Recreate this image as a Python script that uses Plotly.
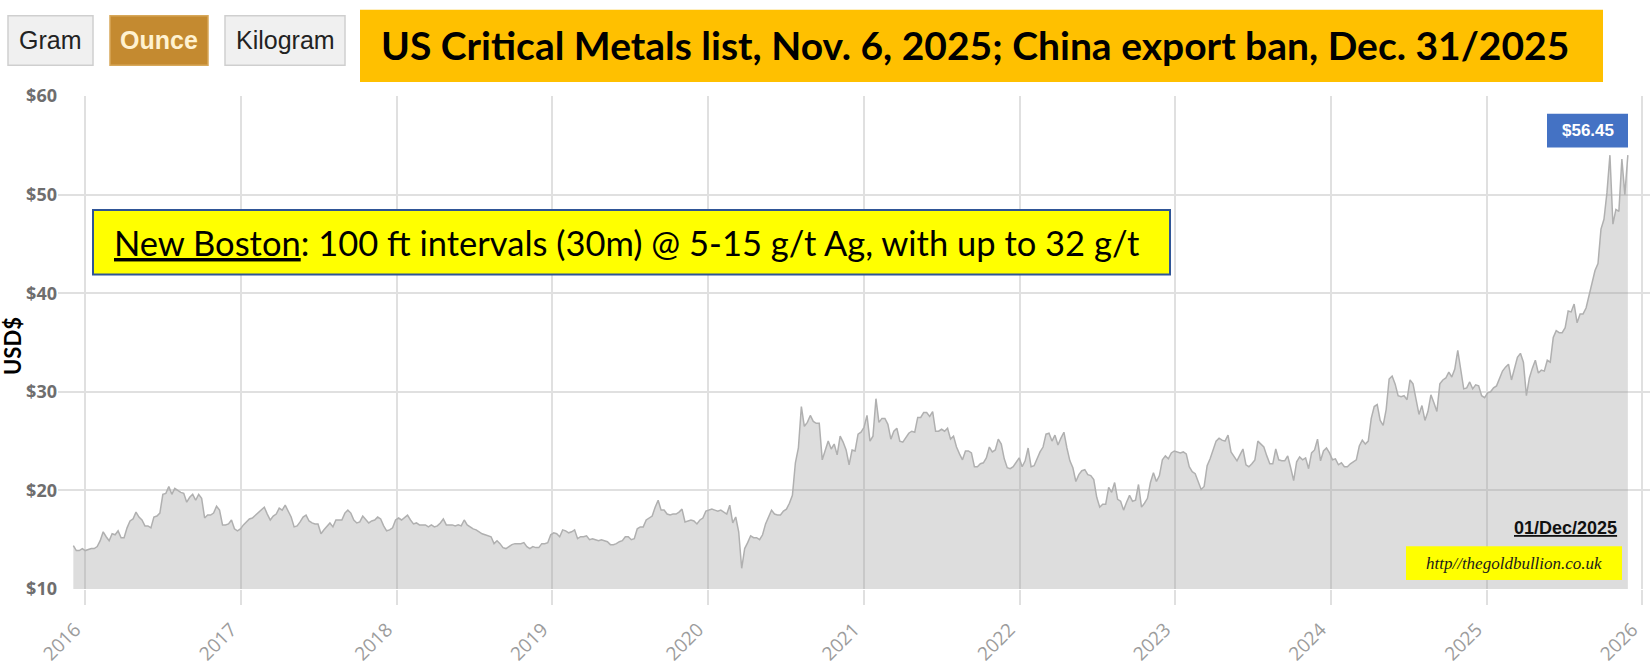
import pandas as pd
import plotly.graph_objects as go

# ---------------- data (weekly Friday closes) ----------------
silver_2015 = [14.4, 13.9, 13.9, 14.1]  # Dec 4 .. Dec 25
silver_2016 = [13.9, 14.0, 14.1, 14.1, 14.3,
               14.9, 15.8, 15.3, 14.9,
               15.6, 15.5, 15.9, 15.2,
               15.2, 16.2, 16.9, 17.1, 17.8,
               17.3, 17.0, 16.4, 16.4,
               16.2, 17.3, 17.4, 17.7,
               19.6, 19.7, 20.4, 19.6, 20.2,
               20.0, 19.8, 19.7, 18.8,
               19.3, 19.6, 19.0, 19.6, 19.2,
               17.2, 17.5, 17.5, 17.7,
               18.4, 18.0, 16.5, 16.5,
               16.6, 17.0, 16.1, 15.9, 16.1]
silver_2017 = [16.5, 16.8, 17.1, 17.2,
               17.5, 17.7, 18.0, 18.3,
               17.6, 17.0, 17.4, 17.6, 18.2,
               18.0, 18.5, 17.9, 17.3,
               16.3, 16.4, 16.8, 17.3,
               17.5, 16.9, 16.7, 16.6, 16.6,
               15.6, 16.0, 16.4, 16.7,
               16.3, 17.0, 17.0, 17.0,
               17.7, 18.0, 17.7, 17.0, 16.7,
               16.8, 17.4, 17.0, 16.7,
               16.9, 17.0, 17.3, 17.1,
               16.4, 15.9, 16.0, 16.2, 17.0]
silver_2018 = [17.2, 17.0, 17.3, 17.5,
               17.0, 16.6, 16.7, 16.5,
               16.5, 16.5, 16.3, 16.5, 16.3,
               16.4, 16.7, 17.1, 16.5,
               16.5, 16.5, 16.4, 16.5,
               16.4, 17.0, 16.5, 16.3, 16.1,
               16.0, 15.8, 15.6, 15.5,
               15.4, 15.3, 14.6, 14.9, 14.6,
               14.2, 14.1, 14.3, 14.5,
               14.6, 14.6, 14.6, 14.7,
               14.3, 14.1, 14.3, 14.2, 14.2,
               14.6, 14.6, 14.7, 15.5]
silver_2019 = [15.7, 15.6, 15.3, 16.0,
               15.9, 15.7, 15.8, 16.0,
               15.1, 15.3, 15.3, 15.4, 15.0,
               15.1, 15.0, 14.9, 15.0,
               14.9, 14.8, 14.5, 14.5, 14.6,
               14.8, 14.9, 15.3, 15.3,
               15.0, 15.1, 16.1, 16.3,
               16.3, 17.0, 17.2, 17.4, 18.3,
               19.0, 18.0, 18.0, 17.6,
               17.5, 17.6, 17.6, 17.8,
               18.1, 16.8, 16.9, 17.0, 16.9,
               16.6, 17.0, 17.2, 17.9]
silver_2020 = [18.0, 18.1, 18.0, 17.9, 18.0,
               17.8, 17.6, 18.5, 16.7,
               17.3, 15.8, 12.1, 14.1,
               14.7, 15.4, 15.2, 15.2,
               15.0, 15.5, 16.6, 17.3, 18.0,
               17.6, 17.5, 17.5, 17.9,
               18.1, 18.7, 19.5, 22.8, 24.3,
               28.5, 26.5, 26.9, 27.6,
               27.0, 26.8, 26.8, 23.1,
               24.0, 25.0, 24.2, 24.7, 23.6,
               25.5, 24.9, 24.1, 22.6,
               24.1, 24.0, 25.7, 25.9]
silver_2021 = [26.4, 27.6, 25.0, 25.5, 29.3,
               26.9, 27.3, 27.3, 26.7,
               25.2, 26.0, 26.3, 25.0,
               24.9, 25.3, 25.8, 26.0, 25.9,
               27.4, 27.4, 27.9, 27.9,
               27.5, 28.0, 26.0, 26.0,
               26.2, 26.0, 26.3, 25.2, 25.5,
               24.4, 23.7, 23.1, 24.0,
               24.0, 23.8, 22.4, 22.4,
               22.7, 22.8, 23.3, 24.4, 23.9,
               24.1, 25.2, 24.7, 23.2,
               22.3, 22.2, 22.4, 22.9, 23.3]
silver_2022 = [22.4, 23.0, 24.3, 22.4,
               22.5, 23.2, 23.9, 24.4,
               25.7, 25.8, 25.0, 25.6,
               24.6, 25.3, 25.9, 24.3, 23.0,
               22.3, 20.9, 21.6, 22.0,
               22.1, 21.6, 21.5, 21.1,
               19.3, 18.3, 18.6, 18.6, 20.3,
               19.8, 20.8, 19.1, 18.9,
               18.0, 18.8, 19.5, 18.9, 19.0,
               20.6, 18.3, 18.7, 19.2,
               20.8, 21.8, 20.9, 21.5,
               23.1, 23.5, 23.2, 23.8, 24.0]
silver_2023 = [23.9, 23.8, 23.9, 23.7,
               22.4, 21.9, 21.7, 20.8,
               20.1, 20.4, 22.5, 23.2, 24.1,
               25.0, 25.3, 25.1, 25.0,
               25.6, 23.9, 23.5, 23.0,
               23.6, 24.2, 22.6, 22.4, 22.7,
               23.1, 25.0, 24.7, 24.4,
               23.5, 22.7, 22.7, 24.2,
               23.1, 23.0, 23.0, 23.5, 22.3,
               21.0, 22.9, 23.4, 23.1,
               23.3, 22.2, 23.8, 24.1,
               25.2, 23.0, 24.0, 24.3, 23.8]
silver_2024 = [23.1, 23.2, 22.6, 22.8,
               22.4, 22.4, 22.7, 22.9,
               23.1, 24.5, 25.1, 24.7, 25.0,
               27.3, 28.5, 28.7, 27.1,
               26.6, 28.2, 31.3, 31.6, 30.8,
               29.6, 29.5, 29.6, 29.2,
               31.2, 30.8, 29.3, 27.7,
               28.6, 27.1, 28.0, 29.7, 28.9,
               28.0, 30.8, 31.2, 31.4,
               32.0, 31.5, 32.3, 34.2,
               32.2, 30.3, 30.4, 31.0, 30.3,
               30.7, 30.6, 29.6, 29.4]
silver_2025 = [29.9, 30.0, 30.4, 30.6, 31.3,
               32.1, 32.5, 32.8, 31.2,
               32.5, 33.5, 33.9, 33.0,
               29.6, 31.4, 32.4, 33.2,
               31.9, 32.2, 32.1, 33.2, 33.0,
               35.5, 36.2, 36.0, 36.0,
               36.5, 38.2, 38.1, 38.9,
               37.0, 37.9, 37.9, 38.5, 39.7,
               41.0, 42.3, 43.0, 46.5,
               47.5, 50.2, 54.0, 47.0, 48.5,
               48.3, 53.6, 50.0, 54.0]

yearly_blocks = {
    2016: silver_2016, 2017: silver_2017, 2018: silver_2018, 2019: silver_2019,
    2020: silver_2020, 2021: silver_2021, 2022: silver_2022, 2023: silver_2023,
    2024: silver_2024, 2025: silver_2025,
}

year_ticks = [str(y) for y in range(2016, 2027)]
y_ticks = [10, 20, 30, 40, 50, 60]
y_tick_text = [f"${v}" for v in y_ticks]

# ---------------- build weekly date axis ----------------
dates = list(pd.date_range("2015-12-04", periods=len(silver_2015), freq="7D"))
values = list(silver_2015)
for yr, vals in yearly_blocks.items():
    start = pd.Timestamp(f"{yr}-01-01")
    start = start + pd.Timedelta(days=(4 - start.weekday()) % 7)
    dates += list(pd.date_range(start, periods=len(vals), freq="7D"))
    values += vals

# ---------------- figure ----------------
W, H = 1652, 668
L, R, T, B = 58, 2, 96, 75
PW, PH = W - L - R, H - T - B


def px(x):
    return (x - L) / PW


def py(y):
    return (H - B - y) / PH


fig = go.Figure()
fig.add_trace(go.Scatter(
    x=dates, y=values, mode="lines",
    line=dict(color="#b0b0b0", width=1.5),
    fill="tozeroy", fillcolor="rgba(150,150,150,0.32)",
    hoverinfo="skip",
))

shapes = []
annotations = []


def box(x0, y0, x1, y1, fill, line_color=None, line_width=0):
    shapes.append(dict(
        type="rect", xref="paper", yref="paper", layer="above",
        x0=px(x0), x1=px(x1), y0=py(y1), y1=py(y0),
        fillcolor=fill,
        line=dict(color=line_color or fill, width=line_width),
    ))


def text(x, y, s, size, color, family, xanchor="center", weight="normal", style="normal"):
    annotations.append(dict(
        xref="paper", yref="paper", x=px(x), y=py(y), text=s,
        showarrow=False, xanchor=xanchor, yanchor="middle",
        font=dict(size=size, color=color, family=family, weight=weight, style=style),
    ))


# unit buttons
box(8, 15, 93, 65, "#f0f0f0", "#cfcfcf", 1.5)
box(110, 15, 208, 65, "#c48a30", "#d7a85a", 1.5)
box(225, 15, 345, 65, "#f0f0f0", "#cfcfcf", 1.5)
text(50.5, 40, "Gram", 25, "#222222", "Liberation Sans, Arial")
text(159, 40, "Ounce", 25, "#fff2d0", "Liberation Sans, Arial", weight="bold")
text(285, 40, "Kilogram", 25, "#222222", "Liberation Sans, Arial")

# title banner
box(360, 9, 1603, 82, "#ffc000")
text(975, 45, "US Critical Metals list, Nov. 6, 2025; China export ban, Dec. 31/2025",
     39, "#000000", "Lato", weight="bold")

# New Boston note
box(93, 211, 1170, 276, "#ffff00", "#2f5597", 2)
text(112, 244, "<u>New Boston</u>: 100 ft intervals (30m) @ 5-15 g/t Ag, with up to 32 g/t",
     34.5, "#000000", "Lato", xanchor="left")

# price flag
box(1547, 114, 1628, 148, "#4472c4")
text(1587.5, 131, "$56.45", 17, "#ffffff", "Liberation Sans, Arial", weight="bold")

# date + source
text(1619, 532, "<u>01/Dec/2025</u>", 18, "#111111", "Liberation Sans, Arial",
     xanchor="right", weight="bold")
box(1406, 550, 1622, 584, "#ffff00")
text(1514, 567, "http//thegoldbullion.co.uk", 17, "#1a1a1a", "Liberation Serif",
     style="italic")

# y-axis title
annotations.append(dict(
    xref="paper", yref="paper", x=px(13), y=py(348), text="USD$", textangle=-90,
    showarrow=False, xanchor="center", yanchor="middle",
    font=dict(size=22, color="#000000", family="Lato", weight="bold"),
))

fig.update_layout(
    width=W, height=H,
    margin=dict(l=L, r=R, t=T, b=B),
    paper_bgcolor="white", plot_bgcolor="white",
    showlegend=False,
    shapes=shapes, annotations=annotations,
    xaxis=dict(
        type="date", range=["2015-10-29", "2026-01-19"],
        tickvals=[f"{y}-01-01" for y in year_ticks], ticktext=year_ticks,
        tickangle=-45, ticks="outside", ticklen=15, tickwidth=2, tickcolor="#e0e0e0",
        ticklabelshift=-10, ticklabelstandoff=6,
        showgrid=True, gridcolor="#e0e0e0", gridwidth=2,
        zeroline=False, showline=False,
        tickfont=dict(family="Open Sans", size=19, color="#9c9c9c"),
    ),
    yaxis=dict(
        range=[10, 60], tickvals=y_ticks, ticktext=y_tick_text,
        showgrid=True, gridcolor="#e0e0e0", gridwidth=2,
        zeroline=False, showline=False, ticks="",
        tickfont=dict(family="Open Sans", size=18, color="#6e6e6e", weight="bold"),
    ),
)

fig.write_html("out.html", config={"displayModeBar": False},
               post_script="document.body.style.margin='0';")
